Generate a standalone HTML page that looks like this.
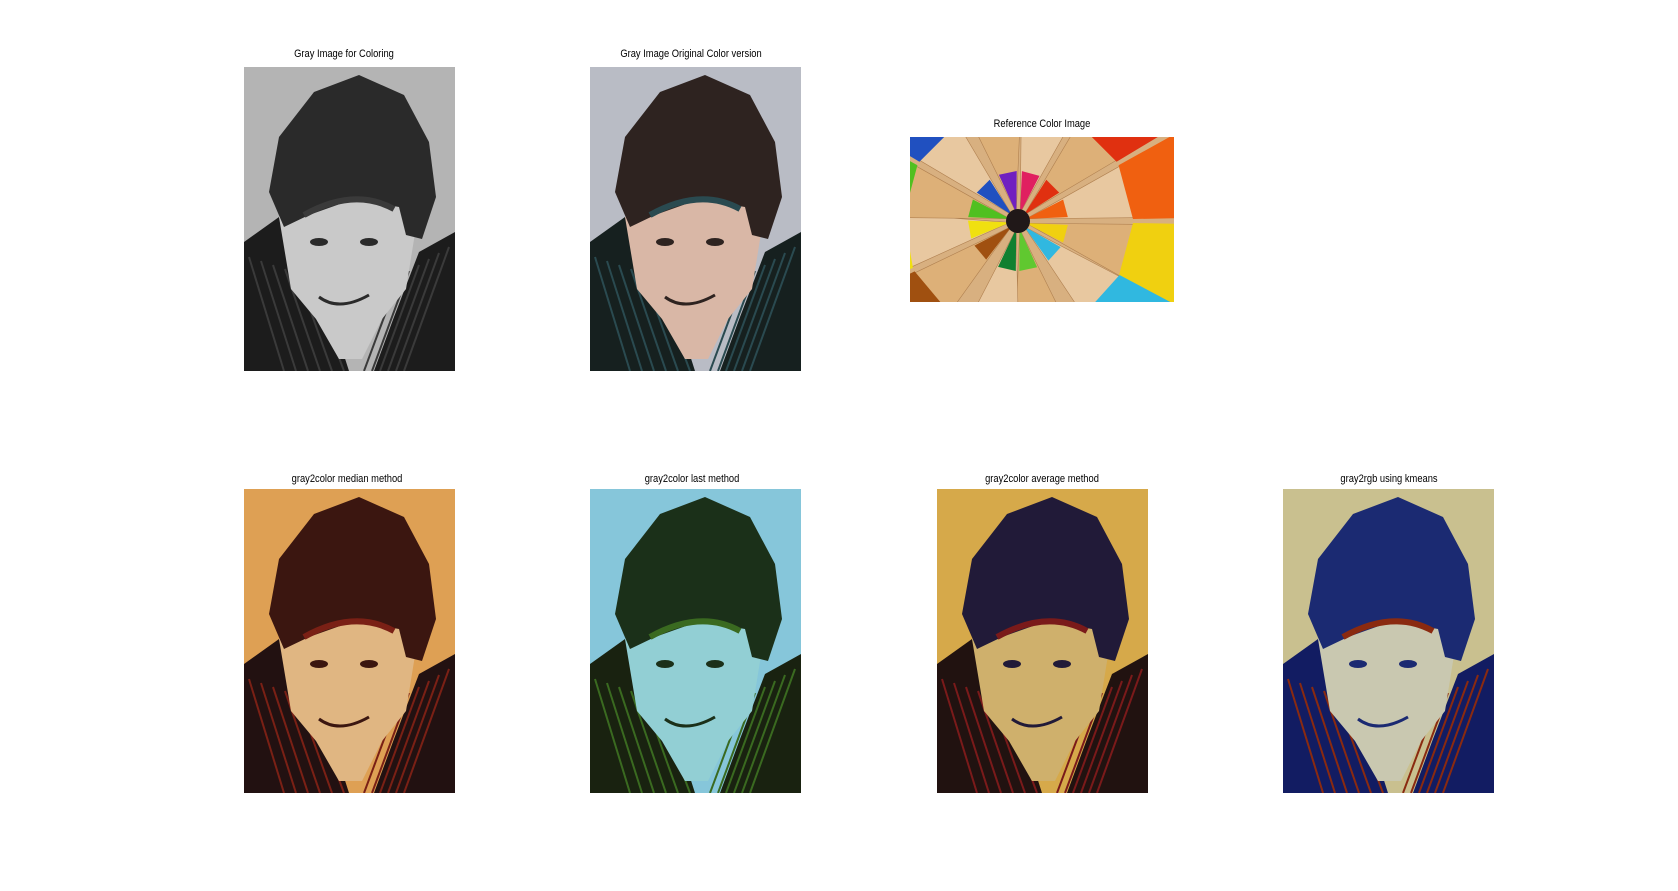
<!DOCTYPE html>
<html><head><meta charset="utf-8">
<style>
html,body{margin:0;padding:0;background:#fff;}
body{width:1678px;height:891px;position:relative;overflow:hidden;font-family:"Liberation Sans",sans-serif;}
.t{position:absolute;font-size:11px;color:#000;white-space:nowrap;transform:translateX(-50%) scaleX(0.85);}
svg.p{position:absolute;}
</style></head>
<body>
<div class="t" style="left:344px;top:48px">Gray Image for Coloring</div>
<div class="t" style="left:691px;top:48px">Gray Image Original Color version</div>
<div class="t" style="left:1042px;top:118px">Reference Color Image</div>
<div class="t" style="left:347px;top:473px">gray2color median method</div>
<div class="t" style="left:692px;top:473px">gray2color last method</div>
<div class="t" style="left:1042px;top:473px">gray2color average method</div>
<div class="t" style="left:1389px;top:473px">gray2rgb using kmeans</div>

<svg class="p" id="ref" style="left:910px;top:137px" width="264" height="165" viewBox="0 0 264 165"></svg>

<script>
const panels=[
 {name:'gray-image',x:244,y:67,bg:'#b4b4b4',hair:'#2a2a2a',face:'#c9c9c9',shirt:'#1c1c1c',acc:'#3a3a3a'},
 {name:'original-color-image',x:590,y:67,bg:'#b9bcc5',hair:'#2e2320',face:'#d9b7a6',shirt:'#16201f',acc:'#2a4a50'},
 {name:'median-method-image',x:244,y:489,bg:'#dea054',hair:'#3b1610',face:'#e0b682',shirt:'#221111',acc:'#7a2015'},
 {name:'last-method-image',x:590,y:489,bg:'#86c6da',hair:'#1b3019',face:'#92cfd4',shirt:'#192210',acc:'#3a6a20'},
 {name:'average-method-image',x:937,y:489,bg:'#d6a94a',hair:'#211a38',face:'#cfb06c',shirt:'#211210',acc:'#7a1a1a'},
 {name:'kmeans-image',x:1283,y:489,bg:'#c9c08f',hair:'#1b2a72',face:'#c9c8b0',shirt:'#121c62',acc:'#8a2a10'}
];
const NS='http://www.w3.org/2000/svg';
function mk(tag,attrs,parent){const e=document.createElementNS(NS,tag);for(const k in attrs)e.setAttribute(k,attrs[k]);parent.appendChild(e);return e;}
panels.forEach(p=>{
 const s=document.createElementNS(NS,'svg');
 s.setAttribute('class','p');s.setAttribute('width',211);s.setAttribute('height',304);
 s.style.left=p.x+'px';s.style.top=p.y+'px';
 
 
 document.body.appendChild(s);
 mk('rect',{x:0,y:0,width:211,height:304,fill:p.bg},s);
 mk('path',{d:'M0,175 L35,150 L75,210 L105,304 L0,304Z M211,165 L175,185 L150,250 L130,304 L211,304Z',fill:p.shirt},s);
 for(let i=0;i<6;i++){mk('line',{x1:5+i*12,y1:190+i*4,x2:40+i*12,y2:304,stroke:p.acc,'stroke-width':2},s);mk('line',{x1:205-i*10,y1:180+i*6,x2:160-i*8,y2:304,stroke:p.acc,'stroke-width':2},s);}
 mk('path',{d:'M35,150 L60,135 L150,130 L172,160 L162,222 L138,252 L118,292 L95,292 L72,252 L47,222Z',fill:p.face},s);
 mk('path',{d:'M25,125 L35,70 L70,25 L115,8 L160,28 L185,75 L192,130 L178,172 L162,168 L155,140 L110,132 L65,148 L40,160Z',fill:p.hair},s);
 mk('path',{d:'M60,148 Q110,120 150,142',stroke:p.acc,'stroke-width':6,fill:'none'},s);
 mk('ellipse',{cx:75,cy:175,rx:9,ry:4,fill:p.hair},s);
 mk('ellipse',{cx:125,cy:175,rx:9,ry:4,fill:p.hair},s);
 mk('path',{d:'M75,230 Q95,245 125,228',stroke:p.hair,'stroke-width':3,fill:'none'},s);
});
// reference pencils
const pencilAngles=[-15,15,42,78,103,140,170,-165,-135,-102,-75,-45];
const pencilColors=['#f06010','#f0d010','#30b8e0','#60c830','#108030','#a05010','#f0e010','#50c020','#2050c0','#7020c0','#e02060','#e03010'];
const ref=document.getElementById('ref');
mk('rect',{x:0,y:0,width:264,height:165,fill:'#d8b080'},ref);
const cx=108,cy=84;
pencilAngles.forEach((a,i)=>{
 const w=14,r0=12,r1=50,r2=320;
 const pt=(ang,r)=>[cx+r*Math.cos(ang*Math.PI/180),cy+r*Math.sin(ang*Math.PI/180)];
 const wood=[pt(a-w*0.3,r0),pt(a+w*0.3,r0),pt(a+w,r2),pt(a-w,r2)];
 const g=mk('path',{d:'M'+wood.map(q=>q.join(',')).join(' L')+'Z',fill:i%2?'#ddb078':'#e8c8a0',stroke:'#b08050','stroke-width':0.6},ref);
 
 
 const tip=[pt(a-w*0.3,r0),pt(a+w*0.3,r0),pt(a+w*0.75,r1),pt(a-w*0.75,r1)];
 mk('path',{d:'M'+tip.map(q=>q.join(',')).join(' L')+'Z',fill:pencilColors[i]},ref);
 const end=[pt(a-w,115),pt(a+w,115),pt(a+w,r2),pt(a-w,r2)];
 mk('path',{d:'M'+end.map(q=>q.join(',')).join(' L')+'Z',fill:pencilColors[i]},ref);
});
mk('circle',{cx:cx,cy:cy,r:12,fill:'#201818'},ref);
</script>
</body></html>
